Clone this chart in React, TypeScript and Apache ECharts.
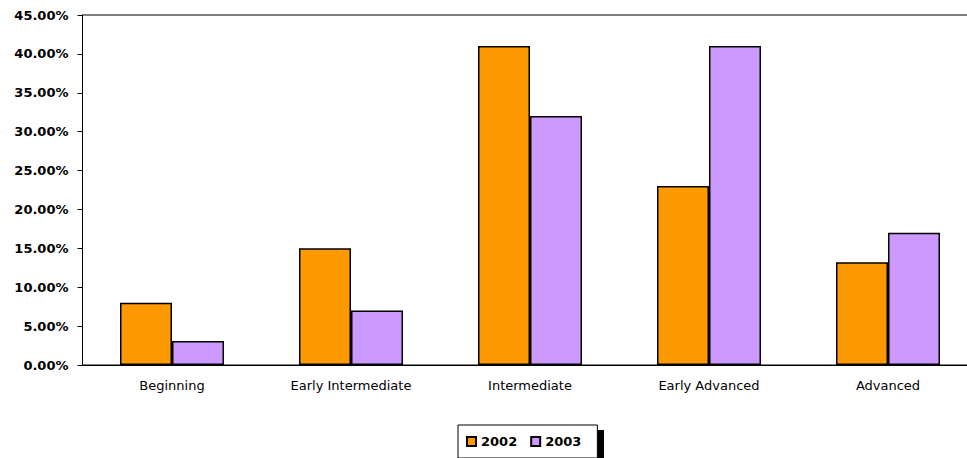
import React, { useEffect, useRef } from "react";
import * as echarts from "echarts";

const categories = ["Beginning", "Early Intermediate", "Intermediate", "Early Advanced", "Advanced"];
const seriesNames = ["2002", "2003"];
const values2002 = [8, 15, 41, 23, 13.2];
const values2003 = [3.1, 7, 32, 41, 17];
const colors = ["#FF9900", "#CC99FF"];

export default function App() {
  const ref = useRef<HTMLDivElement>(null);
  useEffect(() => {
    if (!ref.current) return;
    const chart = echarts.init(ref.current, null, { renderer: "svg" });
    const barStyle = (c: string) => ({ color: c, borderColor: "#000", borderWidth: 1.5 });
    chart.setOption({
      animation: false,
      backgroundColor: "#fff",
      grid: {
        left: 82.5,
        top: 15,
        width: 895,
        height: 350,
        show: true,
        borderColor: "#000",
        borderWidth: 1,
        backgroundColor: "transparent",
      },
      legend: {
        data: seriesNames,
        left: 458,
        top: 425,
        orient: "horizontal",
        icon: "rect",
        itemWidth: 9,
        itemHeight: 9,
        itemGap: 13,
        padding: [10, 16, 10, 8],
        backgroundColor: "#fff",
        borderColor: "#000",
        borderWidth: 1,
        z: 10,
        textStyle: {
          fontFamily: "DejaVu Sans",
          fontWeight: "bold",
          fontSize: 13,
          color: "#000",
          padding: [0, 0, 0, 0],
        },
      },
      graphic: [
        {
          type: "rect",
          z: 1,
          shape: { x: 463, y: 430, width: 141, height: 34 },
          style: { fill: "#000" },
        },
      ],
      xAxis: {
        type: "category",
        data: categories,
        axisLine: { show: true, lineStyle: { color: "#000", width: 1 } },
        axisTick: { show: false },
        axisLabel: {
          margin: 14,
          fontFamily: "DejaVu Sans",
          fontSize: 13,
          color: "#000",
          interval: 0,
        },
      },
      yAxis: {
        type: "value",
        min: 0,
        max: 45,
        interval: 5,
        splitLine: { show: false },
        axisLine: { show: true, lineStyle: { color: "#000", width: 1 } },
        axisTick: { show: true, inside: false, length: 5, lineStyle: { color: "#000" } },
        axisLabel: {
          margin: 14,
          fontFamily: "DejaVu Sans",
          fontWeight: "bold",
          fontSize: 13,
          color: "#000",
          formatter: (v: number) => v.toFixed(2) + "%",
        },
      },
      series: [
        {
          name: seriesNames[0],
          type: "bar",
          data: values2002,
          barWidth: 52,
          barGap: "0%",
          itemStyle: barStyle(colors[0]),
        },
        {
          name: seriesNames[1],
          type: "bar",
          data: values2003,
          barWidth: 52,
          barGap: "0%",
          itemStyle: barStyle(colors[1]),
        },
      ],
    });
    return () => chart.dispose();
  }, []);
  return (
    <div style={{ width: 967, height: 458, position: "absolute", left: 0, top: 0, overflow: "hidden", background: "#fff" }}>
      <div ref={ref} style={{ width: 1000, height: 458, position: "absolute", left: 0, top: 0 }} />
    </div>
  );
}
